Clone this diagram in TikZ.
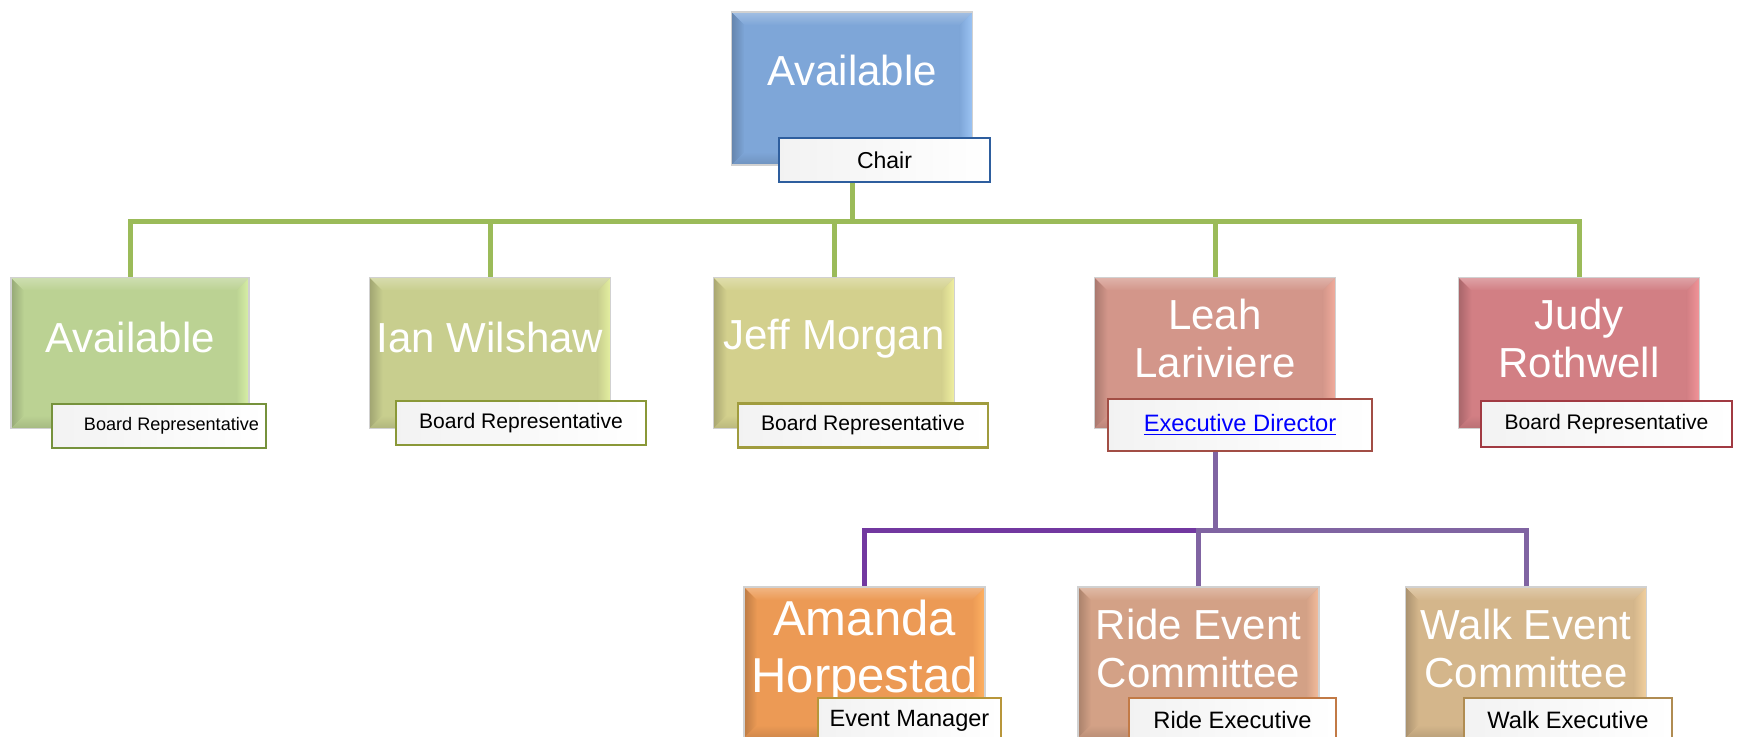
\documentclass[tikz,border=0pt]{standalone}
\usepackage{fontspec}
\setmainfont{Liberation Sans}
\usetikzlibrary{backgrounds}
\definecolor{topblue}{HTML}{7EA6D8}\definecolor{topbluehi}{HTML}{9CC4F4}
\definecolor{availgreen}{HTML}{BBD293}\definecolor{availhi}{HTML}{D8F0A6}
\definecolor{iangreen}{HTML}{C8CE8E}\definecolor{ianhi}{HTML}{E4F0A0}
\definecolor{jeffyellow}{HTML}{D3D08D}\definecolor{jeffhi}{HTML}{F0F0A0}
\definecolor{leahred}{HTML}{D3968A}\definecolor{leahhi}{HTML}{F2AC9C}
\definecolor{judyred}{HTML}{D27F84}\definecolor{judyhi}{HTML}{F29498}
\definecolor{amandaor}{HTML}{EC9A55}\definecolor{amandahi}{HTML}{FFB262}
\definecolor{rideor}{HTML}{D3A186}\definecolor{ridehi}{HTML}{F4BC9C}
\definecolor{walkor}{HTML}{D4B68B}\definecolor{walkhi}{HTML}{F2D09E}
\definecolor{chairline}{HTML}{2E5E9E}\definecolor{availline}{HTML}{76923C}
\definecolor{ianline}{HTML}{8A9838}\definecolor{jeffline}{HTML}{A09C3E}
\definecolor{leahline}{HTML}{A24E45}\definecolor{judyline}{HTML}{A13A42}
\definecolor{amandaline}{HTML}{B8963A}\definecolor{rideline}{HTML}{C27A46}
\definecolor{walkline}{HTML}{B08C52}
\definecolor{linkgreen}{HTML}{9BBB59}\definecolor{linkpurple}{HTML}{8064A2}
\definecolor{linkpurpledark}{HTML}{7030A0}\definecolor{linkblue}{HTML}{0000FF}
\begin{document}
\begin{tikzpicture}[x=0.2mm,y=-0.2mm,
    unit/.style 2 args={draw=black!18, line width=0.6pt, fill=#1, inner sep=0pt,
      minimum width=48.2mm, minimum height=30.2mm,
      path picture={
        \path (path picture bounding box.north west) coordinate (nw)
              (path picture bounding box.north east) coordinate (ne)
              (path picture bounding box.south west) coordinate (sw)
              (path picture bounding box.south east) coordinate (se);
        \shade[left color=#1!80!black, right color=#1] (nw) -- (sw) -- ([shift={(2.6mm,2.6mm)}]sw) -- ([shift={(2.6mm,-2.6mm)}]nw) -- cycle;
        \shade[left color=#1, right color=#2] (ne) -- (se) -- ([shift={(-2.6mm,2.6mm)}]se) -- ([shift={(-2.6mm,-2.6mm)}]ne) -- cycle;
        \shade[top color=#1!72!white, bottom color=#1] (nw) -- (ne) -- ([shift={(-2.6mm,-2.6mm)}]ne) -- ([shift={(2.6mm,-2.6mm)}]nw) -- cycle;
        \shade[top color=#1, bottom color=#1!88!black] (sw) -- (se) -- ([shift={(-2.6mm,2.6mm)}]se) -- ([shift={(2.6mm,2.6mm)}]sw) -- cycle;
      }},
    nametext/.style={text=white, align=center, inner sep=0pt, font=\fontsize{23.9}{27.3}\selectfont},
    role/.style={draw=#1, line width=1.2pt, left color=black!5, right color=white, inner sep=0pt,
      minimum height=8.8mm, font=\fontsize{12}{14}\selectfont},
    greenline/.style={draw=linkgreen, line width=1mm},
    purpleline/.style={draw=linkpurple, line width=1mm}]
  \useasboundingbox (0,0) rectangle (1738,737);

  \node[unit={topblue}{topbluehi}, minimum height=30.6mm] (top) at (852,88.5) {};
  \node[nametext] (topname) at (852,70) {Available};
  \node[role=chairline, minimum width=42.2mm, font=\fontsize{13.1}{15}\selectfont] (chair) at (884.5,160) {Chair};

  \node[unit={availgreen}{availhi}, minimum width=47.6mm] (avail) at (130,353) {};
  \node[unit={iangreen}{ianhi}] (ian) at (490,353) {};
  \node[unit={jeffyellow}{jeffhi}] (jeff) at (834,353) {};
  \node[unit={leahred}{leahhi}] (leah) at (1215,353) {};
  \node[unit={judyred}{judyhi}] (judy) at (1579,353) {};
  \node[nametext] (availname) at (130,337) {Available};
  \node[nametext] (ianname) at (490,337) {Ian Wilshaw};
  \node[nametext] (jeffname) at (834,339) {Jeff Morgan};
  \node[nametext] (leahname) at (1215,338) {Leah\\Lariviere};
  \node[nametext] (judyname) at (1579,338) {Judy\\Rothwell};
  \node[role=availline, minimum width=42.8mm, font=\fontsize{10.3}{12}\selectfont] (availrole) at (159,426) {\hspace*{5mm}Board Representative};
  \node[role=ianline, minimum width=50mm] (ianrole) at (521,423) {Board Representative};
  \node[role=jeffline, minimum width=50mm] (jeffrole) at (863,425.5) {Board Representative};
  \node[role=leahline, minimum width=52.8mm, minimum height=10.4mm, font=\fontsize{13.5}{15}\selectfont] (leahrole) at (1240,425) {\textcolor{linkblue}{\underline{Executive Director}}};
  \node[role=judyline, minimum width=50.2mm, minimum height=9.2mm] (judyrole) at (1606.5,424) {Board Representative};

  \node[unit={amandaor}{amandahi}] (amanda) at (864.5,662.5) {};
  \node[unit={rideor}{ridehi}] (ride) at (1198.5,662.5) {};
  \node[unit={walkor}{walkhi}] (walk) at (1526,662.5) {};
  \node[nametext, font=\fontsize{27.9}{32.4}\selectfont] (amandaname) at (864.5,651) {Amanda\\Horpestad};
  \node[nametext] (ridename) at (1198.5,648) {Ride Event\\Committee};
  \node[nametext] (walkname) at (1526,648) {Walk Event\\Committee};
  \node[role=amandaline, minimum width=36.6mm, minimum height=9mm, font=\fontsize{13.4}{15}\selectfont] (amandarole) at (909.5,720.5) {Event Manager};
  \node[role=rideline, minimum width=41.4mm, minimum height=9mm, font=\fontsize{13.5}{15}\selectfont] (riderole) at (1232.5,720.5) {Ride Executive};
  \node[role=walkline, minimum width=41.6mm, minimum height=9mm, font=\fontsize{13.5}{15}\selectfont] (walkrole) at (1568,720.5) {Walk Executive};

  \begin{pgfonlayer}{background}
    \draw[greenline] (top) -- ++(0,132.5) coordinate (bus);
    \foreach \n in {avail,ian,jeff,leah,judy}
      \draw[greenline] (bus) -| (\n.north);
    \draw[purpleline] (leah) -- ++(0,177) coordinate (pbus);
    \draw[purpleline, draw=linkpurpledark!85!linkpurple] (pbus) -| (amanda.north);
    \foreach \n in {ride,walk}
      \draw[purpleline] (pbus) -| (\n.north);
  \end{pgfonlayer}
\end{tikzpicture}
\end{document}
